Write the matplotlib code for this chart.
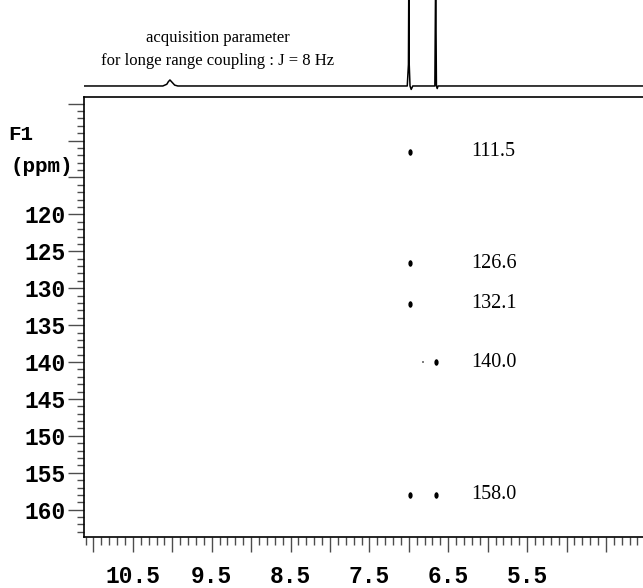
import matplotlib
matplotlib.use('Agg')
import matplotlib.pyplot as plt
import matplotlib.ticker as ticker
from matplotlib.path import Path
from matplotlib.transforms import Affine2D

# cross peaks (F2 = 1H ppm, F1 = 13C ppm)
peak_f2 = [6.98, 6.98, 6.98, 6.66, 6.98, 6.66]
peak_f1 = [111.5, 126.6, 132.1, 140.0, 158.0, 158.0]
faint_f2 = [6.82]
faint_f1 = [140.0]

# carbon shifts written next to the peaks
shift_labels = ['111.5', '126.6', '132.1', '140.0', '158.0']
shift_values = [111.5, 126.6, 132.1, 140.0, 158.0]

# 1D proton trace on top
trace_ppm = [11.12, 10.12, 10.07, 10.05, 10.03, 10.01, 9.99, 9.97, 9.93,
             7.02, 7.005, 7.0, 6.995, 6.985, 6.97, 6.95,
             6.67, 6.66, 6.65, 6.64, 6.63, 4.03]
trace_int = [0, 0, 0.02, 0.05, 0.07, 0.05, 0.03, 0.01, 0,
             0, 0.25, 1.3, 0.25, 0.0, -0.04, 0,
             0, 1.3, 0, -0.03, 0, 0]

x_labels = ['10.5', '9.5', '8.5', '7.5', '6.5', '5.5']
y_labels = ['120', '125', '130', '135', '140', '145', '150', '155', '160']

mono = 'Liberation Mono'
serif = 'Liberation Serif'
px = 72 / 100  # points per pixel

fig = plt.figure(figsize=(6.43, 5.88), dpi=100)
W, H = 643, 588
ax_l, ax_r, ax_t, ax_b = 84, 643, 97, 537
ax = fig.add_axes([ax_l / W, 1 - ax_b / H, (ax_r - ax_l) / W, (ax_b - ax_t) / H])
top = fig.add_axes([ax_l / W, 1 - 92 / H, (ax_r - ax_l) / W, 92 / H], sharex=ax)

ax.set_xlim(11.12, 4.03)
ax.set_ylim(163.7, 104.1)

# peaks drawn as small upright ellipses
ell = Path.unit_circle().transformed(Affine2D().scale(0.65, 1.0))
ax.scatter(peak_f2, peak_f1, marker=ell, s=22, color='black', linewidths=0)
ax.scatter(faint_f2, faint_f1, marker='s', s=1.5, color='0.5', linewidths=0)

for lab, v in zip(shift_labels, shift_values):
    ax.text(0.692, v, lab, transform=ax.get_yaxis_transform(), ha='left', va='center',
            fontsize=14.5, family=serif)

# axes style
ax.spines['right'].set_visible(False)
for s in ['left', 'bottom', 'top']:
    ax.spines[s].set_linewidth(1.2)

ax.xaxis.set_major_locator(ticker.MultipleLocator(0.5))
ax.xaxis.set_minor_locator(ticker.MultipleLocator(0.1))
ax.xaxis.set_major_formatter(ticker.FuncFormatter(
    lambda v, p: ('%.1f' % v) if ('%.1f' % v) in x_labels else ''))
ax.yaxis.set_major_locator(ticker.MultipleLocator(5))
ax.yaxis.set_minor_locator(ticker.MultipleLocator(1))
ax.yaxis.set_major_formatter(ticker.FuncFormatter(
    lambda v, p: ('%d' % round(v)) if ('%d' % round(v)) in y_labels else ''))

tc = '0.3'
ax.tick_params(axis='x', which='major', direction='out', length=15 * px, width=1,
               color=tc, pad=13 * px)
ax.tick_params(axis='x', which='minor', direction='out', length=8 * px, width=1, color=tc)
ax.tick_params(axis='y', which='major', direction='out', length=16 * px, width=1,
               color=tc, pad=2 * px)
ax.tick_params(axis='y', which='minor', direction='out', length=7 * px, width=1, color=tc)
for lab in ax.get_xticklabels() + ax.get_yticklabels():
    lab.set_family(mono)
    lab.set_fontweight('bold')
    lab.set_fontsize(16.5)

fig.text(8 / W, 1 - 135 / H, 'F1', family=mono, fontweight='bold', fontsize=15,
         ha='left', va='center')
fig.text(10 / W, 1 - 167 / H, '(ppm)', family=mono, fontweight='bold', fontsize=15,
         ha='left', va='center')

# 1D projection on top
top.plot(trace_ppm, trace_int, color='black', lw=1.1)
top.set_ylim(-0.07, 1.0)
top.axis('off')

fig.text(218 / W, 1 - 38 / H, 'acquisition parameter', family=serif, fontsize=12,
         ha='center', va='center')
fig.text(218 / W, 1 - 61 / H, 'for longe range coupling : J = 8 Hz', family=serif,
         fontsize=12, ha='center', va='center')

fig.savefig('out.png', dpi=100)
